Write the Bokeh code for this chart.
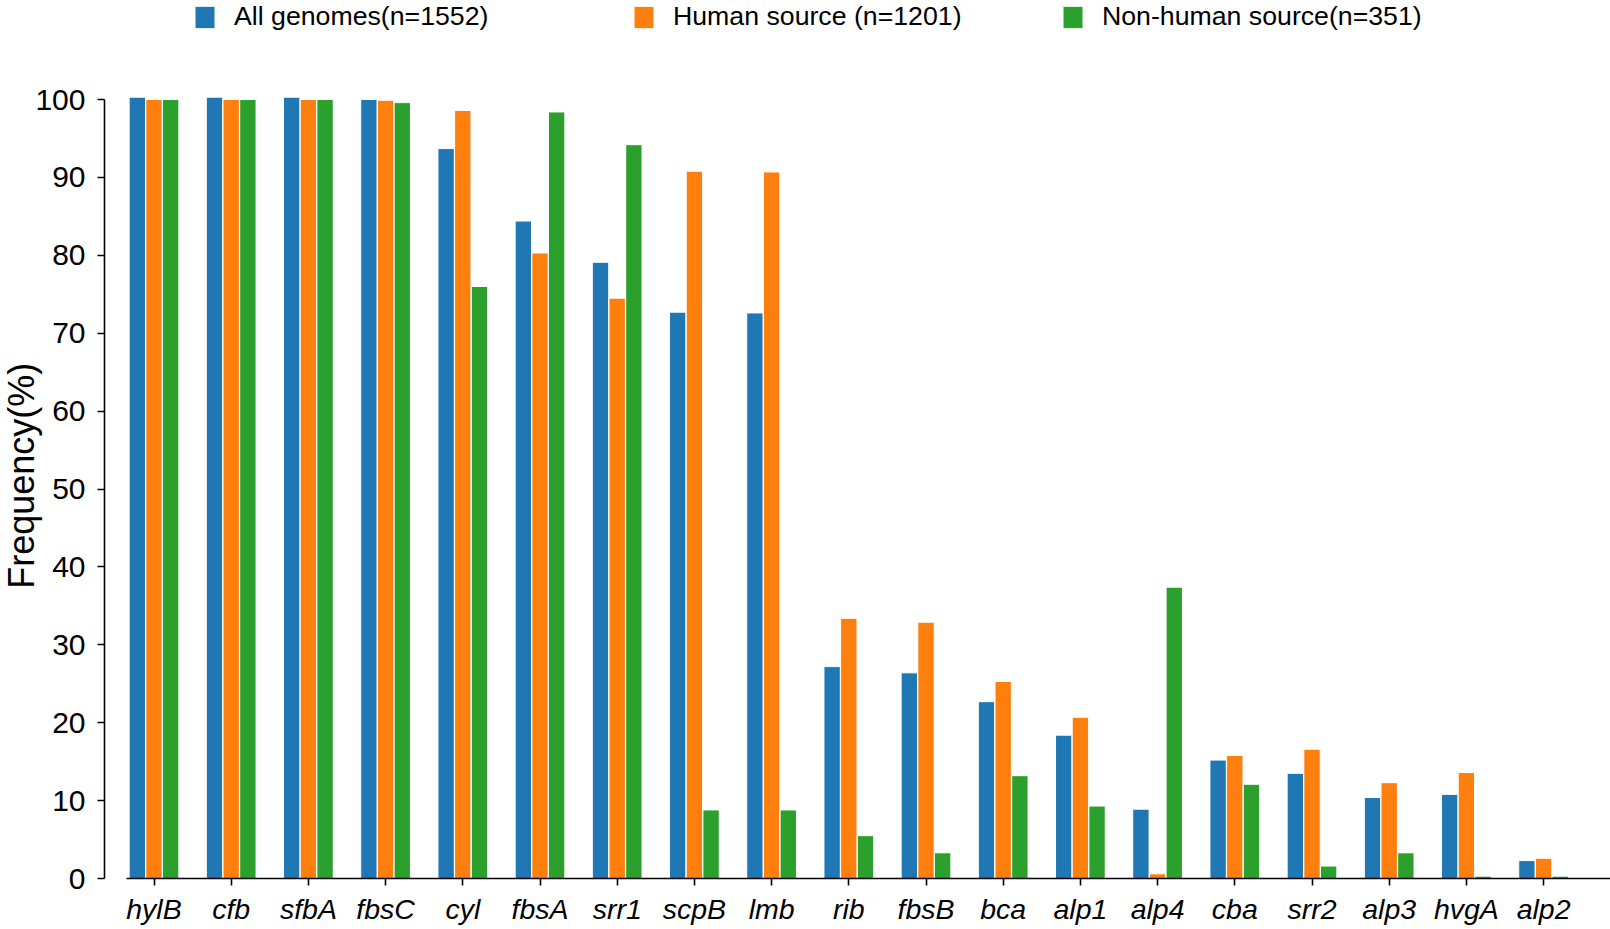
import math
from bokeh.plotting import figure
from bokeh.models import Range1d, FixedTicker, Legend, LegendItem, ColumnDataSource, Label
from bokeh.transform import dodge
from bokeh.embed import file_html
from bokeh.resources import INLINE

genes = ["hylB", "cfb", "sfbA", "fbsC", "cyl", "fbsA", "srr1", "scpB", "lmb", "rib",
         "fbsB", "bca", "alp1", "alp4", "cba", "srr2", "alp3", "hvgA", "alp2"]
all_genomes = [100.3, 100.3, 100.3, 100.0, 93.7, 84.4, 79.1, 72.7, 72.6, 27.2,
               26.4, 22.7, 18.4, 8.9, 15.2, 13.5, 10.4, 10.8, 2.3]
human = [100.0, 100.0, 100.0, 99.9, 98.6, 80.3, 74.5, 90.8, 90.7, 33.4,
         32.9, 25.3, 20.7, 0.6, 15.8, 16.6, 12.3, 13.6, 2.6]
non_human = [100.0, 100.0, 100.0, 99.6, 76.0, 98.4, 94.2, 8.8, 8.8, 5.5,
             3.3, 13.2, 9.3, 37.4, 12.1, 1.6, 3.3, 0.3, 0.3]
series_labels = ["All genomes(n=1552)", "Human source (n=1201)", "Non-human source(n=351)"]
colors = ["#1f77b4", "#ff7f0e", "#2ca02c"]
y_ticks = [0, 10, 20, 30, 40, 50, 60, 70, 80, 90, 100]
y_title = "Frequency(%)"

FONT = "Liberation Sans"
idx = list(range(len(genes)))
source = ColumnDataSource(dict(x=idx, all=all_genomes, human=human, nonhuman=non_human))

# canvas layout in pixels
W, H = 1610, 929
PX_PER_CAT = 77.2            # horizontal pixels per category
FIRST_CENTER = 153.5         # pixel column of the first category centre
Y_ZERO, Y_HUNDRED = 878, 99  # pixel rows of 0 % and 100 %
YAXIS_PX = 104               # pixel column of the y axis line
LEGEND_X = [192, 631, 1060]  # pixel columns where each legend entry starts

ppu = (Y_ZERO - Y_HUNDRED) / 100.0
x0 = -FIRST_CENTER / PX_PER_CAT
x1 = x0 + W / PX_PER_CAT
y0 = -(H - Y_ZERO) / ppu
y1 = Y_ZERO / ppu
yaxis_x = x0 + YAXIS_PX / PX_PER_CAT

p = figure(width=W, height=H, output_backend="svg", toolbar_location=None,
           x_range=Range1d(x0, x1), y_range=Range1d(y0, y1),
           min_border_left=0, min_border_right=0, min_border_top=0, min_border_bottom=0)
p.outline_line_color = None
p.grid.visible = False
p.background_fill_color = "white"

renderers = []
for col_name, off, color in zip(["all", "human", "nonhuman"], [-0.216, 0.0, 0.216], colors):
    r = p.vbar(x=dodge("x", off, range=p.x_range), top=col_name, bottom=0, width=0.212,
               source=source, fill_color=color, line_color="white", line_width=1)
    renderers.append(r)

# x axis, drawn at y = 0
p.xaxis.fixed_location = 0
p.xaxis.ticker = FixedTicker(ticks=idx)
p.xaxis.major_label_overrides = {i: g for i, g in enumerate(genes)}
p.xaxis.major_label_text_font = FONT
p.xaxis.major_label_text_font_style = "italic"
p.xaxis.major_label_text_font_size = "28.5px"
p.xaxis.major_label_text_color = "black"
p.xaxis.major_label_standoff = 7
p.xaxis.bounds = (-0.356, x1)

# y axis, offset to the left of the first bar group
p.yaxis.fixed_location = yaxis_x
p.yaxis.ticker = FixedTicker(ticks=y_ticks)
p.yaxis.bounds = (0, 100)
p.yaxis.major_label_text_font = FONT
p.yaxis.major_label_text_font_size = "30px"
p.yaxis.major_label_text_color = "black"
p.yaxis.major_label_standoff = 12

for ax in (p.xaxis, p.yaxis):
    ax.axis_line_color = "black"
    ax.axis_line_width = 1.6
    ax.major_tick_line_color = "black"
    ax.major_tick_line_width = 1.6
    ax.major_tick_out = 7
    ax.major_tick_in = 0
    ax.minor_tick_line_color = None

p.add_layout(Label(x=0, y=51.7, x_units="screen", y_units="data", text=y_title,
                   angle=math.pi / 2, text_align="center", text_baseline="top",
                   text_font=FONT, text_font_size="36px", text_color="black"))

for lab, r, lx in zip(series_labels, renderers, LEGEND_X):
    p.add_layout(Legend(items=[LegendItem(label=lab, renderers=[r])],
                        location=(lx, H - 32), orientation="horizontal",
                        glyph_width=25, glyph_height=28, label_standoff=17,
                        padding=0, margin=0, border_line_color=None, background_fill_alpha=0,
                        label_text_font=FONT, label_text_font_size="26.7px",
                        label_text_color="black"))

open("out.html", "w").write(file_html(p, INLINE))
